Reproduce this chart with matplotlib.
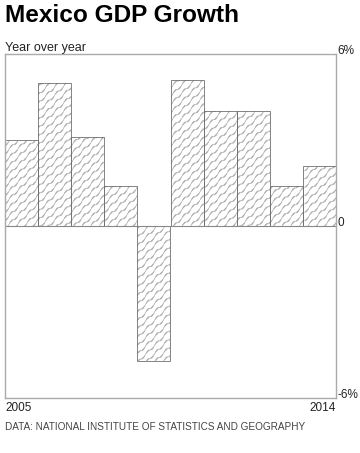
"""Mexico GDP growth, year over year, wavy hatched bars."""

import warnings
import numpy as np
import matplotlib
matplotlib.use('Agg')
import matplotlib.pyplot as plt
from matplotlib import hatch as mhatch
from matplotlib.path import Path

years = ['2005', '2006', '2007', '2008', '2009', '2010', '2011', '2012', '2013', '2014']
growth = [3.0, 5.0, 3.1, 1.4, -4.7, 5.1, 4.0, 4.0, 1.4, 2.1]
ytick_vals = [6, 0, -6]
ytick_text = ['6%', '0', '-6%']

warnings.filterwarnings('ignore')


class WavyHatch(mhatch.HatchPatternBase):
    """Diagonal wavy lines, drawn when the hatch string holds 'w'."""

    def __init__(self, hatch, density):
        self.n = 12 * hatch.count('w')
        self.npts = 121
        self.num_vertices = 2 * self.n * self.npts if self.n else 0

    def set_vertices_and_codes(self, vertices, codes):
        x = np.linspace(0, 1, self.npts)
        wig = 0.016 * np.sin(2 * np.pi * 11 * x)
        i = 0
        for k in range(-self.n, self.n):
            c = k / self.n
            vertices[i:i + self.npts, 0] = x
            vertices[i:i + self.npts, 1] = x + c + wig
            codes[i] = Path.MOVETO
            codes[i + 1:i + self.npts] = Path.LINETO
            i += self.npts


mhatch._hatch_types.append(WavyHatch)
plt.rcParams['hatch.linewidth'] = 0.45
plt.rcParams['font.family'] = ['Liberation Sans', 'DejaVu Sans']

fig = plt.figure(figsize=[3.6, 4.53], dpi=100)
ax = fig.add_axes([5 / 360, 1 - 398 / 453, 331 / 360, 344 / 453])

x = np.arange(len(years))
# hatch layer (light), then the bar outlines on top
ax.bar(x, growth, width=1.0, facecolor='white', edgecolor='#ababab',
       linewidth=0, hatch='w')
ax.bar(x, growth, width=1.0, facecolor='none', edgecolor='#707070',
       linewidth=0.6)
ax.axhline(0, color='#888888', lw=0.8)

ax.set_xlim(-0.5, len(years) - 0.5)
ax.set_ylim(-6, 6)
ax.set_xticks([])
ax.set_yticks([])
for sp in ax.spines.values():
    sp.set_color('#aaaaaa')
    sp.set_linewidth(1.0)

for v, t in zip(ytick_vals, ytick_text):
    ax.text(1.004, v, t, transform=ax.get_yaxis_transform(), ha='left',
            va='baseline', fontsize=8.5, color='#222222')

ax.text(0, -0.012, years[0], transform=ax.transAxes, ha='left', va='top',
        fontsize=8.5, color='#222222')
ax.text(1, -0.012, years[-1], transform=ax.transAxes, ha='right', va='top',
        fontsize=8.5, color='#222222')

fig.text(5 / 360, 1 - 4 / 453, 'Mexico GDP Growth', ha='left', va='top',
         fontsize=17.6, fontweight='bold', color='black')
fig.text(5 / 360, 1 - 51 / 453, 'Year over year', ha='left', va='baseline',
         fontsize=9, color='#222222')
fig.text(5 / 360, 1 - 430 / 453, 'DATA: NATIONAL INSTITUTE OF STATISTICS AND GEOGRAPHY',
         ha='left', va='baseline', fontsize=7.2, color='#444444')

plt.savefig('out.png', dpi=100)
